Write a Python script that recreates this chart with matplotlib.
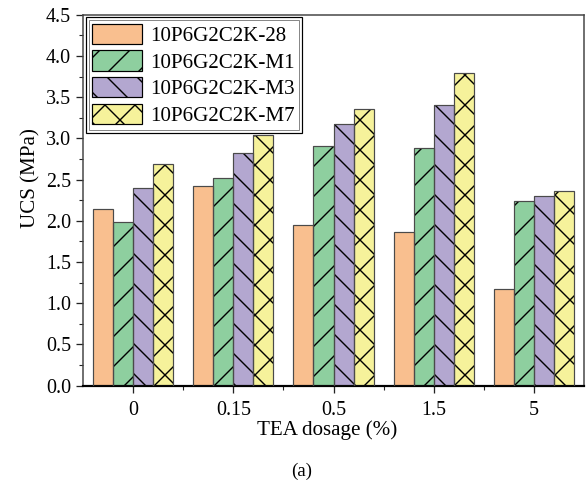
import matplotlib
matplotlib.use('Agg')
import matplotlib.pyplot as plt
import matplotlib.ticker as mticker
from matplotlib.patches import Rectangle
import numpy as np

# ── Data ───────────────────────────────────────────────
categories = ['0', '0.15', '0.5', '1.5', '5']
series_names = ['10P6G2C2K-28', '10P6G2C2K-M1', '10P6G2C2K-M3', '10P6G2C2K-M7']
ucs_28 = [2.14, 2.42, 1.95, 1.86, 1.17]
ucs_m1 = [1.98, 2.52, 2.91, 2.88, 2.24]
ucs_m3 = [2.40, 2.82, 3.17, 3.40, 2.30]
ucs_m7 = [2.69, 3.04, 3.36, 3.79, 2.36]

# ── Style ──────────────────────────────────────────────
COLORS = ['#F9BF8F', '#8ECF9F', '#B3A7D0', '#F6F29B']
HATCHES = ['', '//', '\\\\', 'xx']
EDGE = '#4a4a4a'
DPI = 180
PT = 72 / DPI  # px -> pt

plt.rcParams.update({
    'font.family': 'Liberation Serif',
    'hatch.linewidth': 1.4 * PT,
    'hatch.color': 'black',
})

fig = plt.figure(figsize=(588 / DPI, 489 / DPI), dpi=DPI)
ax = fig.add_axes([83 / 588, 1 - 385.7 / 489, 501 / 588, 371 / 489])

x = np.arange(len(categories))
width = 0.2
all_series = [ucs_28, ucs_m1, ucs_m3, ucs_m7]
handles = []
for i, vals in enumerate(all_series):
    pos = x + (i - 1.5) * width
    # fill + hatch (black), then grey outline on top
    ax.bar(pos, vals, width, color=COLORS[i], hatch=HATCHES[i],
           edgecolor='black', linewidth=0, zorder=2)
    ax.bar(pos, vals, width, facecolor='none', edgecolor=EDGE,
           linewidth=1.2 * PT, zorder=3)
    handles.append(Rectangle((0, 0), 1, 1, facecolor=COLORS[i],
                             hatch=HATCHES[i], edgecolor='black',
                             linewidth=1.2 * PT))

ax.set_xlim(-0.5, 4.5)
ax.set_ylim(0, 4.5)
ax.set_xticks(x)
ax.set_xticklabels(categories)
ax.xaxis.set_minor_locator(mticker.FixedLocator(x[:-1] + 0.5))
ax.yaxis.set_major_locator(mticker.MultipleLocator(0.5))
ax.yaxis.set_minor_locator(mticker.MultipleLocator(0.25))
ax.yaxis.set_major_formatter(mticker.FormatStrFormatter('%.1f'))

tick_fs = 20 * PT
ax.tick_params(which='major', direction='out', length=7 * PT, width=1.3 * PT,
               labelsize=tick_fs, pad=5 * PT, color='#222222')
ax.tick_params(which='minor', direction='out', length=4 * PT, width=1.1 * PT,
               color='#222222')
ax.tick_params(axis='x', which='major', pad=8 * PT)
ax.tick_params(top=False, right=False, which='both')

for side in ['left', 'right', 'top']:
    ax.spines[side].set_linewidth(1.5 * PT)
    ax.spines[side].set_color('#444444')
ax.spines['bottom'].set_linewidth(2.2 * PT)
ax.spines['bottom'].set_color('black')

label_fs = 21 * PT
ax.set_xlabel('TEA dosage (%)', fontsize=label_fs)
ax.set_ylabel('UCS (MPa)', fontsize=label_fs)
ax.xaxis.set_label_coords(0.488, -0.12)
ax.yaxis.set_label_coords(-0.105, 0.56)
ax.xaxis.label.set_va('center')
ax.yaxis.label.set_va('center')

leg = ax.legend(handles, series_names, loc='upper left', fontsize=21 * PT,
                frameon=True, fancybox=False, framealpha=1,
                edgecolor='black', handlelength=2.4, handleheight=1.1,
                labelspacing=0.22, borderaxespad=0.12, borderpad=0.3,
                handletextpad=0.4)
leg.get_frame().set_linewidth(1.2 * PT)
leg.set_zorder(5)

# inner grey line of the double legend border
fig.canvas.draw()
bb = leg.get_frame().get_bbox()
inset = 3
ax.add_artist(Rectangle((bb.x0 + inset, bb.y0 + inset),
                        bb.width - 2 * inset, bb.height - 2 * inset,
                        transform=None, fill=False, edgecolor='#888888',
                        linewidth=1.0 * PT, zorder=6))

fig.text(302 / 588, 1 - 471 / 489, '(a)', fontsize=19 * PT,
         ha='center', va='center')

fig.savefig('out.png', dpi=DPI)
